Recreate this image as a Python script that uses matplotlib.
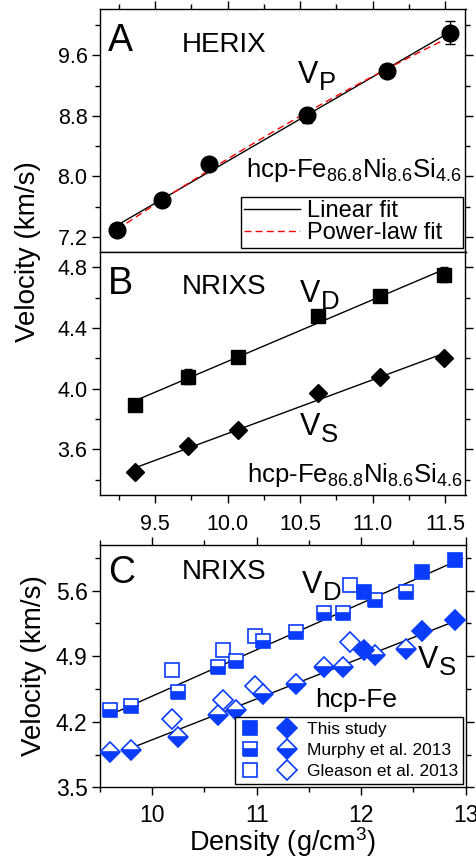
import numpy as np
import matplotlib
matplotlib.use('Agg')
import matplotlib.pyplot as plt
from matplotlib.lines import Line2D
from matplotlib.legend_handler import HandlerTuple
from matplotlib.ticker import MultipleLocator, FormatStrFormatter

plt.rcParams['font.family'] = ['Liberation Sans', 'DejaVu Sans']
plt.rcParams['mathtext.fontset'] = 'custom'
plt.rcParams['mathtext.rm'] = 'Liberation Sans'
plt.rcParams['mathtext.default'] = 'regular'

# ---------------- Panel A : HERIX Vp ----------------
herix_rho = [9.24, 9.55, 9.87, 10.55, 11.10, 11.53]
herix_vp = [7.29, 7.69, 8.17, 8.81, 9.40, 9.90]
herix_err = [0.03, 0.03, 0.03, 0.10, 0.09, 0.15]
# power-law fit curve
powfit_rho = [9.24, 10.55, 11.53]
powfit_vp = [7.30, 8.85, 9.84]

# ---------------- Panel B : NRIXS Vd, Vs ----------------
nrixs_rho = [9.36, 9.73, 10.07, 10.62, 11.05, 11.49]
nrixs_vd = [3.89, 4.08, 4.21, 4.48, 4.61, 4.75]
nrixs_vd_err = [0.02, 0.05, 0.03, 0.04, 0.03, 0.05]
nrixs_vs = [3.45, 3.62, 3.73, 3.97, 4.08, 4.20]

# ---------------- Panel C : hcp-Fe ----------------
ts_rho = [12.03, 12.58, 12.90]
ts_vd = [5.58, 5.80, 5.93]
ts_vs = [4.97, 5.17, 5.29]

mu_rho = [9.60, 9.80, 10.25, 10.63, 10.80, 11.06, 11.38, 11.64, 11.83, 12.13, 12.43]
mu_vd = [4.32, 4.37, 4.52, 4.78, 4.85, 5.06, 5.16, 5.36, 5.36, 5.50, 5.59]
mu_vs = [3.88, 3.90, 4.04, 4.27, 4.33, 4.50, 4.60, 4.78, 4.78, 4.91, 4.98]

gl_rho = [10.19, 10.68, 10.98, 11.89]
gl_vd = [4.75, 4.97, 5.12, 5.66]
gl_vs = [4.23, 4.43, 4.58, 5.05]

# fit lines in panel C (end points)
fitc_vd_rho = [9.67, 12.97]
fitc_vd = [4.31, 5.945]
fitc_vs_rho = [9.80, 12.97]
fitc_vs = [3.92, 5.305]

BLUE = '#0a3cfb'
W, H = 477, 858
fig = plt.figure(figsize=(W / 100, H / 100), dpi=100)


def px_axes(l, t, r, b):
    return fig.add_axes([l / W, 1 - b / H, (r - l) / W, (b - t) / H])


axA = px_axes(100, 9.3, 465.5, 252)
axB = px_axes(100, 252, 465.5, 495)
axC = px_axes(100, 544.7, 465.7, 787.3)

TICK_FS = 15.5


def style(ax, top=True, bottom=True):
    ax.tick_params(which='both', direction='out', top=top, bottom=bottom,
                   left=True, right=True, width=1.0, labelsize=TICK_FS, pad=3)
    ax.tick_params(which='major', length=6)
    ax.tick_params(which='minor', length=3.5)
    for s in ax.spines.values():
        s.set_linewidth(1.0)


def sub_label(ax, x, y, main, sub, fs=22, subfs=18.5):
    t = ax.text(x, y, main, transform=ax.transAxes, fontsize=fs,
                ha='left', va='baseline')
    ax.annotate(sub, xy=(1, 0), xycoords=t, xytext=(0.3, 0.2),
                textcoords='offset points', fontsize=subfs,
                ha='left', va='baseline')


# ---------- Panel A ----------
xa = np.array(herix_rho)
ya = np.array(herix_vp)
pl = np.polyfit(xa, ya, 1)
xf = np.linspace(xa.min(), xa.max(), 100)
lin_line, = axA.plot(xf, np.polyval(pl, xf), color='black', lw=1.0, zorder=2)
pq = np.polyfit(powfit_rho, powfit_vp, 2)
xp = np.linspace(min(powfit_rho), max(powfit_rho), 100)
pow_line, = axA.plot(xp, np.polyval(pq, xp), color='red',
                     lw=1.0, ls=(0, (5, 3)), zorder=3)
axA.errorbar(herix_rho, herix_vp, yerr=herix_err, fmt='o', ms=12,
             color='black', ecolor='black', elinewidth=1.0, capsize=3.6,
             capthick=1.0, zorder=4)
axA.set_xlim(9.12, 11.64)
axA.set_ylim(7.0, 10.21)
axA.yaxis.set_major_locator(MultipleLocator(0.8))
axA.yaxis.set_minor_locator(MultipleLocator(0.4))
axA.yaxis.set_major_formatter(FormatStrFormatter('%.1f'))
axA.xaxis.set_major_locator(MultipleLocator(0.5))
axA.xaxis.set_minor_locator(MultipleLocator(0.25))
style(axA)
axA.tick_params(labelbottom=False)

axA.text(0.022, 0.829, 'A', transform=axA.transAxes, fontsize=27, va='baseline')
axA.text(0.224, 0.825, 'HERIX', transform=axA.transAxes, fontsize=20, va='baseline')
sub_label(axA, 0.542, 0.695, 'V', 'P')
axA.text(0.990, 0.310, r'hcp-Fe$_{86.8}$Ni$_{8.6}$Si$_{4.6}$', transform=axA.transAxes,
         fontsize=18.5, ha='right', va='baseline')
legA = axA.legend([lin_line, pow_line], ['Linear fit', 'Power-law fit'],
                  loc='lower left', bbox_to_anchor=(0.385, 0.0165, 0.608, 0.236),
                  mode='expand', borderaxespad=0, fontsize=17, handlelength=2.35,
                  handletextpad=0.3, borderpad=0.15, labelspacing=0.0,
                  fancybox=False, framealpha=1, edgecolor='black')
legA.get_frame().set_linewidth(1.0)

# ---------- Panel B ----------
xb = np.array(nrixs_rho)
for yv in (nrixs_vd, nrixs_vs):
    p = np.polyfit(xb, np.array(yv), 1)
    xf = np.linspace(xb.min(), xb.max(), 50)
    axB.plot(xf, np.polyval(p, xf), color='black', lw=1.0, zorder=2)
axB.errorbar(nrixs_rho, nrixs_vd, yerr=nrixs_vd_err, fmt='s', ms=9.6,
             color='black', ecolor='black', elinewidth=1.0, capsize=3.0,
             capthick=1.0, zorder=4)
axB.plot(nrixs_rho, nrixs_vs, 'D', ms=8.7, color='black', zorder=4)
axB.set_xlim(9.12, 11.64)
axB.set_ylim(3.3, 4.9)
axB.yaxis.set_major_locator(MultipleLocator(0.4))
axB.yaxis.set_minor_locator(MultipleLocator(0.2))
axB.yaxis.set_major_formatter(FormatStrFormatter('%.1f'))
axB.xaxis.set_major_locator(MultipleLocator(0.5))
axB.xaxis.set_minor_locator(MultipleLocator(0.25))
axB.xaxis.set_major_formatter(FormatStrFormatter('%.1f'))
style(axB, top=False)
axB.tick_params(axis='x', pad=8)

axB.text(0.022, 0.826, 'B', transform=axB.transAxes, fontsize=27, va='baseline')
axB.text(0.224, 0.826, 'NRIXS', transform=axB.transAxes, fontsize=20, va='baseline')
sub_label(axB, 0.547, 0.795, 'V', 'D')
sub_label(axB, 0.547, 0.247, 'V', 'S')
axB.text(0.993, 0.055, r'hcp-Fe$_{86.8}$Ni$_{8.6}$Si$_{4.6}$', transform=axB.transAxes,
         fontsize=18.5, ha='right', va='baseline')

fig.text(28 / W, 1 - 252 / H, 'Velocity (km/s)', rotation=90, fontsize=20,
         ha='center', va='center')

# ---------- Panel C ----------
axC.plot(fitc_vd_rho, fitc_vd, color='black', lw=1.0, zorder=2)
axC.plot(fitc_vs_rho, fitc_vs, color='black', lw=1.0, zorder=2)
MS = 10
MEW = 1.2
kw_open = dict(ls='none', ms=MS, mew=MEW, mec=BLUE, mfc='white', zorder=3)
kw_half = dict(ls='none', ms=MS, mew=MEW, mec=BLUE, mfc=BLUE,
               fillstyle='bottom', markerfacecoloralt='white', zorder=4)
kw_full = dict(ls='none', ms=MS, mew=MEW, mec=BLUE, mfc=BLUE, zorder=5)
axC.plot(gl_rho, gl_vd, marker='s', **kw_open)
axC.plot(gl_rho, gl_vs, marker='D', **kw_open)
axC.plot(mu_rho, mu_vd, marker='s', **kw_half)
axC.plot(mu_rho, mu_vs, marker='D', **kw_half)
axC.plot(ts_rho, ts_vd, marker='s', **kw_full)
axC.plot(ts_rho, ts_vs, marker='D', **kw_full)
axC.set_xlim(9.5, 13.0)
axC.set_ylim(3.5, 6.09)
axC.yaxis.set_major_locator(MultipleLocator(0.7))
axC.yaxis.set_minor_locator(MultipleLocator(0.35))
axC.yaxis.set_major_formatter(FormatStrFormatter('%.1f'))
axC.xaxis.set_major_locator(MultipleLocator(1.0))
axC.xaxis.set_minor_locator(MultipleLocator(0.5))
style(axC)
axC.tick_params(labelsize=16.5)
axC.tick_params(axis='x', pad=6)

axC.text(0.022, 0.841, 'C', transform=axC.transAxes, fontsize=27, va='baseline')
axC.text(0.224, 0.857, 'NRIXS', transform=axC.transAxes, fontsize=20, va='baseline')
sub_label(axC, 0.5515, 0.7996, 'V', 'D')
sub_label(axC, 0.870, 0.4905, 'V', 'S')
axC.text(0.588, 0.332, 'hcp-Fe', transform=axC.transAxes, fontsize=19, va='baseline')
axC.set_xlabel('Density (g/cm$^3$)', fontsize=19.5, labelpad=-1.5)
axC.set_ylabel('Velocity (km/s)', fontsize=20, labelpad=6)


def h(marker, kind):
    kw = {'full': kw_full, 'half': kw_half, 'open': kw_open}[kind]
    return Line2D([], [], marker=marker, **kw)


handles = [(h('s', 'full'), h('D', 'full')),
           (h('s', 'half'), h('D', 'half')),
           (h('s', 'open'), h('D', 'open'))]
legC = axC.legend(handles, ['This study', 'Murphy et al. 2013', 'Gleason et al. 2013'],
                  handler_map={tuple: HandlerTuple(ndivide=None, pad=0.94)},
                  loc='lower right', bbox_to_anchor=(0.9934, 0.0136),
                  borderaxespad=0, fontsize=12.5, handlelength=3.28,
                  handletextpad=0.57, borderpad=0.3, labelspacing=0.32,
                  fancybox=False, framealpha=1, edgecolor='black')
legC.get_frame().set_linewidth(1.0)

fig.savefig('out.png', dpi=100)
